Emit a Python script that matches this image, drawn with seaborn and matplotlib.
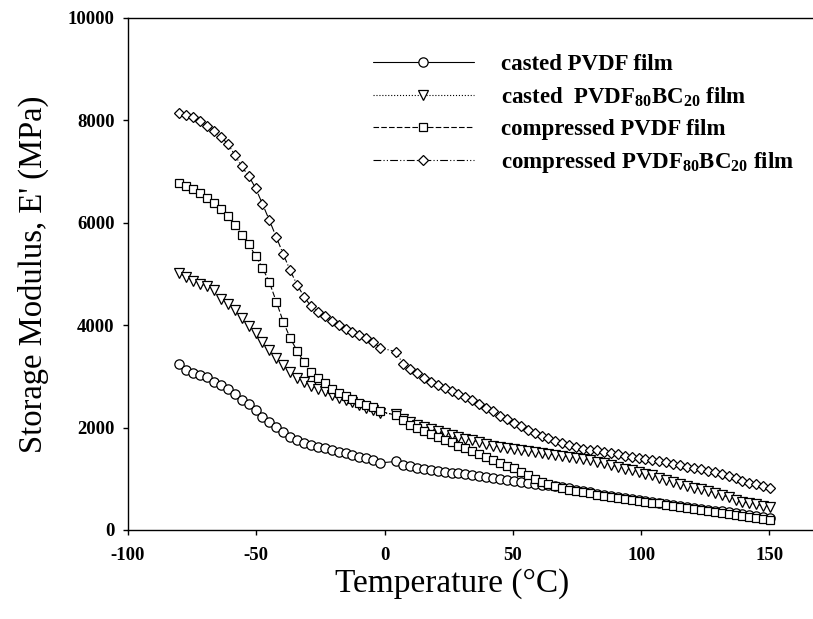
import matplotlib
matplotlib.use("Agg")
import matplotlib.pyplot as plt
import numpy as np
import pandas as pd
import seaborn as sns

# ---------------- data ----------------
temperature = [-80.0, -77.3, -74.6, -71.9, -69.2, -66.5, -63.8, -61.1, -58.4, -55.7,
               -53.0, -50.3, -47.6, -44.9, -42.2, -39.5, -36.8, -34.1, -31.4, -28.7,
               -26.0, -23.3, -20.6, -17.9, -15.2, -12.5, -9.8, -7.1, -4.4, -1.7,
               4.5, 7.2, 9.9, 12.6, 15.3, 18.0, 20.7, 23.4, 26.1, 28.8,
               31.5, 34.2, 36.9, 39.6, 42.3, 45.0, 47.7, 50.4, 53.1, 55.8,
               58.5, 61.2, 63.9, 66.6, 69.3, 72.0, 74.7, 77.4, 80.1, 82.8,
               85.5, 88.2, 90.9, 93.6, 96.3, 99.0, 101.7, 104.4, 107.1, 109.8,
               112.5, 115.2, 117.9, 120.6, 123.3, 126.0, 128.7, 131.4, 134.1, 136.8,
               139.5, 142.2, 144.9, 147.6, 150.3]

casted_pvdf = [3240, 3130, 3065, 3030, 2990, 2900, 2830, 2750, 2655, 2540,
               2460, 2345, 2215, 2115, 2020, 1920, 1825, 1760, 1705, 1660,
               1625, 1595, 1565, 1530, 1500, 1465, 1435, 1400, 1365, 1310,
               1340, 1275, 1245, 1215, 1195, 1175, 1155, 1140, 1122, 1105,
               1088, 1068, 1050, 1030, 1010, 988, 968, 955, 942, 922,
               903, 887, 870, 853, 835, 816, 790, 763, 737, 710,
               684, 662, 641, 622, 604, 585, 566, 547, 528, 509,
               490, 472, 453, 435, 416, 398, 380, 362, 344, 327,
               310, 293, 276, 259, 242]

casted_bc = [5010, 4935, 4860, 4810, 4770, 4680, 4520, 4420, 4290, 4150,
             3990, 3840, 3680, 3510, 3360, 3230, 3080, 2960, 2890, 2820,
             2755, 2710, 2645, 2585, 2530, 2495, 2445, 2390, 2340, 2290,
             2260, 2170, 2110, 2060, 2010, 1970, 1930, 1890, 1855, 1820,
             1785, 1750, 1715, 1680, 1650, 1620, 1595, 1575, 1555, 1535,
             1515, 1500, 1480, 1465, 1445, 1425, 1405, 1385, 1360, 1330,
             1300, 1265, 1235, 1200, 1170, 1140, 1100, 1065, 1025, 985,
             945, 905, 865, 830, 795, 765, 730, 690, 640, 590,
             550, 520, 500, 475, 445]

compressed_pvdf = [6780, 6720, 6660, 6590, 6480, 6380, 6260, 6140, 5960, 5770,
                   5580, 5360, 5120, 4840, 4460, 4070, 3750, 3500, 3280, 3090,
                   2970, 2870, 2760, 2685, 2615, 2550, 2490, 2445, 2395, 2320,
                   2240, 2140, 2060, 1995, 1935, 1875, 1815, 1765, 1710, 1650,
                   1600, 1540, 1485, 1425, 1365, 1305, 1255, 1205, 1135, 1065,
                   995, 935, 895, 858, 822, 790, 762, 737, 714, 690,
                   665, 648, 630, 612, 590, 568, 550, 535, 520, 495,
                   468, 446, 428, 408, 385, 362, 348, 333, 315, 297,
                   275, 250, 232, 213, 195]

compressed_bc = [8135, 8100, 8060, 7985, 7885, 7795, 7680, 7540, 7330, 7100,
                 6920, 6680, 6370, 6050, 5720, 5390, 5070, 4790, 4560, 4370,
                 4265, 4175, 4090, 4000, 3930, 3860, 3800, 3750, 3670, 3560,
                 3480, 3240, 3140, 3060, 2975, 2900, 2835, 2780, 2720, 2655,
                 2590, 2530, 2465, 2390, 2315, 2235, 2160, 2095, 2025, 1955,
                 1895, 1845, 1800, 1745, 1700, 1655, 1620, 1590, 1570, 1555,
                 1530, 1500, 1475, 1455, 1435, 1410, 1395, 1370, 1345, 1320,
                 1295, 1270, 1240, 1215, 1190, 1160, 1130, 1100, 1060, 1010,
                 955, 920, 890, 855, 830]

series_labels = [r"casted PVDF film",
                 r"casted  PVDF$_{80}$BC$_{20}$ film",
                 r"compressed PVDF film",
                 r"compressed PVDF$_{80}$BC$_{20}$ film"]
series_values = [casted_pvdf, casted_bc, compressed_pvdf, compressed_bc]

x_ticks = [-100, -50, 0, 50, 100, 150]
y_ticks = [0, 2000, 4000, 6000, 8000, 10000]

# ---------------- style ----------------
sns.set_theme(style="ticks")
plt.rcParams["font.family"] = ["Liberation Serif", "DejaVu Serif"]
plt.rcParams["axes.unicode_minus"] = False
plt.rcParams["mathtext.fontset"] = "custom"
plt.rcParams["mathtext.rm"] = "Liberation Serif:bold"
plt.rcParams["mathtext.bf"] = "Liberation Serif:bold"
plt.rcParams["mathtext.it"] = "Liberation Serif:bold:italic"

markers = ["o", "v", "s", "D"]
msizes = [6.7, 6.5, 6.0, 5.1]
linestyles = ["-", ":", (0, (5, 2)), (0, (7, 2, 1, 2, 1, 2))]

fig = plt.figure(figsize=(8.13, 6.19), dpi=100)
ax = fig.add_axes([128 / 813, 89 / 619, 685 / 813, 512 / 619])

for lab, vals, mk, ms, ls in zip(series_labels, series_values, markers, msizes, linestyles):
    df = pd.DataFrame({"T": temperature, "E": vals})
    sns.lineplot(data=df, x="T", y="E", ax=ax, color="black", lw=0.8,
                 linestyle=ls, marker=mk, markersize=ms, markerfacecolor="white",
                 markeredgecolor="black", markeredgewidth=0.9, label=lab,
                 errorbar=None, sort=False)

ax.set_xlim(-100, 167)
ax.set_ylim(0, 10000)
ax.set_xticks(x_ticks)
ax.set_yticks(y_ticks)
ax.set_xticklabels([str(t) for t in x_ticks])
ax.set_yticklabels([str(t) for t in y_ticks])

for side in ["left", "bottom", "top"]:
    ax.spines[side].set_visible(True)
    ax.spines[side].set_color("black")
    ax.spines[side].set_linewidth(1.0)
ax.spines["right"].set_visible(False)

ax.tick_params(axis="both", direction="out", length=3.6, width=1.0, color="black",
               labelcolor="black", labelsize=13.5)
ax.tick_params(axis="x", pad=9)
ax.tick_params(axis="y", pad=6)
for t in ax.get_xticklabels() + ax.get_yticklabels():
    t.set_fontweight("bold")

ax.set_xlabel("Temperature (°C)", fontsize=24, color="black", va="center")
ax.set_ylabel("Storage Modulus, E' (MPa)", fontsize=23.5, color="black", va="center")
ax.xaxis.set_label_coords(0.473, -0.105)
ax.yaxis.set_label_coords(-0.138, 0.5)

leg = ax.legend(loc="upper left", bbox_to_anchor=(373 / 813, 1 - 54 / 619),
                bbox_transform=fig.transFigure, frameon=False,
                prop={"family": "Liberation Serif", "weight": "bold", "size": 16.5},
                handlelength=4.4, handletextpad=1.2, labelspacing=0.45,
                borderpad=0, borderaxespad=0)
for t in leg.get_texts():
    t.set_color("black")

fig.savefig("out.png", dpi=100, facecolor="white")
